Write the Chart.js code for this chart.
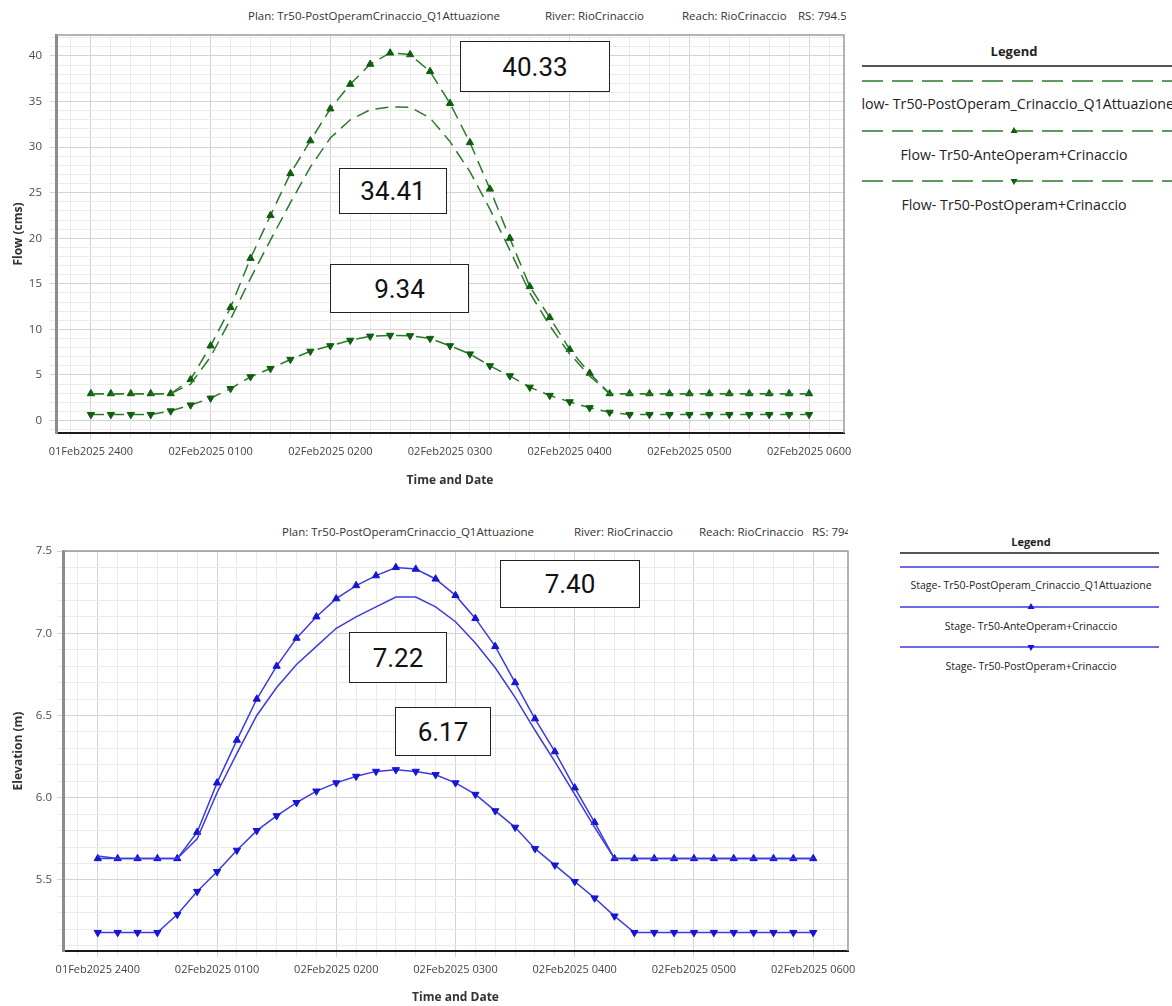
<!DOCTYPE html>
<html>
<head>
<meta charset="utf-8">
<script src="https://cdn.jsdelivr.net/npm/chart.js@4.4.1/dist/chart.umd.min.js"></script>
<style>
  body { margin:0; width:1172px; height:1006px; overflow:hidden; position:relative; background:#fff;
         font-family:'Open Sans','DejaVu Sans',sans-serif; }
  canvas { position:absolute; left:0; }
  .hdr { position:absolute; left:0; height:16px; overflow:hidden; font-size:11.5px; line-height:16px; color:#333; white-space:nowrap; }
  .hdr span { position:absolute; top:0; }
  .box { position:absolute; box-sizing:border-box; border:1.5px solid #222; background:#fff;
         display:flex; align-items:center; justify-content:center; font-family:Roboto,sans-serif; font-size:26px; color:#111; }
  .legTitle { position:absolute; font-weight:bold; color:#222; transform:translate(-50%,-50%); white-space:nowrap; }
  .legRule { position:absolute; height:0; border-top:2px solid #555; }
  .legRow { position:absolute; height:20px; overflow:hidden; }
  .legRow span { position:absolute; top:50%; transform:translate(-50%,-50%); white-space:nowrap; color:#222; }
  svg { position:absolute; overflow:visible; }
</style>
</head>
<body>
<div class="hdr" id="hdrFlow" style="top:8px; width:846px"></div>
<canvas id="flowChart" width="860" height="488" style="top:0"></canvas>
<div class="hdr" id="hdrStage" style="top:524px; width:848px"></div>
<canvas id="stageChart" width="864" height="505" style="top:500px"></canvas>
<script>
// tempo in minuti dall'inizio (01Feb2025 2400), passo 10 min
const timeMinutes = [0, 10, 20, 30, 40, 50, 60, 70, 80, 90, 100, 110, 120, 130, 140, 150, 160, 170, 180,
  190, 200, 210, 220, 230, 240, 250, 260, 270, 280, 290, 300, 310, 320, 330, 340, 350, 360];
const xTickLabels = ['01Feb2025 2400', '02Feb2025 0100', '02Feb2025 0200', '02Feb2025 0300',
  '02Feb2025 0400', '02Feb2025 0500', '02Feb2025 0600'];

// Portate (cms)
const flowQ1 = [2.95, 2.95, 2.95, 2.95, 2.95, 4.0, 7.0, 11.1, 15.6, 19.8, 23.9, 27.8, 31.0, 33.0, 34.1, 34.41, 34.38, 33.2,
  30.6, 27.3, 23.2, 18.7, 14.0, 10.4, 7.3, 4.9, 2.95, 2.95, 2.95, 2.95, 2.95, 2.95, 2.95, 2.95, 2.95, 2.95, 2.95];
const flowAnte = [2.95, 2.95, 2.95, 2.95, 2.95, 4.5, 8.2, 12.4, 17.8, 22.5, 27.1, 30.7, 34.2, 36.9, 39.1, 40.33, 40.15, 38.3,
  34.8, 30.5, 25.4, 20.0, 14.7, 11.3, 7.8, 5.2, 2.95, 2.95, 2.95, 2.95, 2.95, 2.95, 2.95, 2.95, 2.95, 2.95, 2.95];
const flowPost = [0.65, 0.65, 0.65, 0.65, 1.05, 1.7, 2.45, 3.5, 4.8, 5.7, 6.7, 7.6, 8.2, 8.8, 9.25, 9.34, 9.3, 9.0,
  8.2, 7.3, 6.0, 4.9, 3.65, 2.75, 2.05, 1.4, 0.9, 0.65, 0.65, 0.65, 0.65, 0.65, 0.65, 0.65, 0.65, 0.65, 0.65];

// Livelli (m)
const stageQ1 = [5.645, 5.63, 5.63, 5.63, 5.63, 5.75, 6.03, 6.27, 6.50, 6.67, 6.81, 6.92, 7.03, 7.10, 7.16, 7.22, 7.22, 7.16,
  7.07, 6.94, 6.79, 6.61, 6.41, 6.22, 6.02, 5.82, 5.63, 5.63, 5.63, 5.63, 5.63, 5.63, 5.63, 5.63, 5.63, 5.63, 5.63];
const stageAnte = [5.63, 5.63, 5.63, 5.63, 5.63, 5.79, 6.09, 6.35, 6.60, 6.80, 6.97, 7.10, 7.21, 7.29, 7.35, 7.40, 7.39, 7.33,
  7.23, 7.09, 6.92, 6.70, 6.48, 6.28, 6.06, 5.85, 5.63, 5.63, 5.63, 5.63, 5.63, 5.63, 5.63, 5.63, 5.63, 5.63, 5.63];
const stagePost = [5.18, 5.18, 5.18, 5.18, 5.29, 5.43, 5.55, 5.68, 5.80, 5.89, 5.97, 6.04, 6.09, 6.13, 6.16, 6.17, 6.16, 6.14,
  6.09, 6.02, 5.92, 5.82, 5.69, 5.59, 5.49, 5.39, 5.28, 5.18, 5.18, 5.18, 5.18, 5.18, 5.18, 5.18, 5.18, 5.18, 5.18];

const flowNames = ['Flow- Tr50-PostOperam_Crinaccio_Q1Attuazione', 'Flow- Tr50-AnteOperam+Crinaccio', 'Flow- Tr50-PostOperam+Crinaccio'];
const stageNames = ['Stage- Tr50-PostOperam_Crinaccio_Q1Attuazione', 'Stage- Tr50-AnteOperam+Crinaccio', 'Stage- Tr50-PostOperam+Crinaccio'];
const headerParts = ['Plan: Tr50-PostOperamCrinaccio_Q1Attuazione', 'River: RioCrinaccio', 'Reach: RioCrinaccio', 'RS: 794.5'];

const GREEN = '#2b7a2b', GREEN_DARK = '#0d5e0d';
const BLUE = '#3b3be0', BLUE_DARK = '#1515d6';
const FONT = 'Open Sans';

// intestazioni (posizione orizzontale di ogni voce)
function fillHeader(id, xs) {
  document.getElementById(id).innerHTML =
    headerParts.map((p, i) => `<span style="left:${xs[i]}px">${p}</span>`).join('');
}
fillHeader('hdrFlow', [248, 545, 682, 798]);
fillHeader('hdrStage', [282, 574, 699, 812]);

const series = vals => timeMinutes.map((t, i) => ({ x: t, y: vals[i] }));

// bordo sottile in alto e a destra dell'area grafico
const frame = {
  id: 'frame',
  afterDraw(chart) {
    const { ctx, chartArea: a } = chart;
    ctx.save();
    ctx.strokeStyle = '#9a9a9a';
    ctx.lineWidth = 1.5;
    ctx.beginPath();
    ctx.moveTo(a.left, a.top);
    ctx.lineTo(a.right, a.top);
    ctx.lineTo(a.right, a.bottom);
    ctx.stroke();
    ctx.restore();
  }
};

function makeChart(id, cfg) {
  return new Chart(document.getElementById(id), {
    type: 'line',
    data: { datasets: cfg.datasets },
    options: {
      responsive: false,
      animation: false,
      layout: { padding: cfg.pad },
      plugins: { legend: { display: false }, tooltip: { enabled: false } },
      elements: { line: { tension: 0, borderWidth: 1.5 } },
      scales: {
        x: {
          type: 'linear', min: -17.5, max: 377.5,
          afterFit: s => { s.height = cfg.xHeight; },
          border: { color: '#1a1a1a', width: 2 },
          grid: { color: c => (c.tick && c.tick.value % 60 === 0) ? '#d4d4d4' : '#ebebeb', tickLength: 6 },
          ticks: {
            stepSize: 10, includeBounds: false, autoSkip: false, maxRotation: 0, minRotation: 0,
            padding: 6, color: '#444', font: { family: FONT, size: 11 },
            callback: v => v % 60 === 0 ? xTickLabels[v / 60] : ''
          },
          title: { display: true, text: 'Time and Date', color: '#333',
                   font: { family: FONT, size: 12, weight: 'bold' }, padding: { top: 0, bottom: 0 } }
        },
        y: {
          min: cfg.yMin, max: cfg.yMax,
          afterFit: s => { s.width = cfg.yWidth; },
          border: { color: '#8c8c8c', width: 3 },
          grid: { color: c => (c.tick && cfg.isMajor(c.tick.value)) ? '#d4d4d4' : '#ebebeb', tickLength: 6 },
          ticks: {
            stepSize: cfg.yStep, includeBounds: false, autoSkip: false, padding: cfg.yPad,
            color: '#4a4a4a', font: { family: FONT, size: 11.5 },
            callback: v => cfg.isMajor(v) ? cfg.fmt(v) : ''
          },
          title: { display: true, text: cfg.yTitle, color: '#333',
                   font: { family: FONT, size: 12, weight: 'bold' }, padding: { top: 1, bottom: 0 } }
        }
      }
    },
    plugins: [frame]
  });
}

makeChart('flowChart', {
  pad: { left: 10, top: 35, right: 16, bottom: 0 },
  yWidth: 46, xHeight: 55, yPad: 8,
  yMin: -1.37, yMax: 42.3, yStep: 1, yTitle: 'Flow (cms)',
  isMajor: v => Math.round(v) % 5 === 0,
  fmt: v => String(Math.round(v)),
  datasets: [
    { label: flowNames[0], data: series(flowQ1), borderColor: GREEN, borderDash: [13, 7], pointRadius: 0 },
    { label: flowNames[1], data: series(flowAnte), borderColor: GREEN, borderDash: [13, 7],
      pointStyle: 'triangle', pointRadius: 4.2, pointBackgroundColor: GREEN_DARK, pointBorderColor: GREEN_DARK, pointBorderWidth: 1 },
    { label: flowNames[2], data: series(flowPost), borderColor: GREEN, borderDash: [13, 7],
      pointStyle: 'triangle', pointRotation: 180, pointRadius: 4.2, pointBackgroundColor: GREEN_DARK, pointBorderColor: GREEN_DARK, pointBorderWidth: 1 }
  ]
});

makeChart('stageChart', {
  pad: { left: 10, top: 51, right: 16, bottom: 0 },
  yWidth: 53, xHeight: 54, yPad: 5,
  yMin: 5.068, yMax: 7.5, yStep: 0.1, yTitle: 'Elevation (m)',
  isMajor: v => Math.round(v * 10) % 5 === 0,
  fmt: v => v.toFixed(1),
  datasets: [
    { label: stageNames[0], data: series(stageQ1), borderColor: BLUE, pointRadius: 0 },
    { label: stageNames[1], data: series(stageAnte), borderColor: BLUE,
      pointStyle: 'triangle', pointRadius: 4.2, pointBackgroundColor: BLUE_DARK, pointBorderColor: BLUE_DARK, pointBorderWidth: 1 },
    { label: stageNames[2], data: series(stagePost), borderColor: BLUE,
      pointStyle: 'triangle', pointRotation: 180, pointRadius: 4.2, pointBackgroundColor: BLUE_DARK, pointBorderColor: BLUE_DARK, pointBorderWidth: 1 }
  ]
});

// riquadri con i valori di picco
const peak = arr => Math.max(...arr).toFixed(2);
const boxes = [
  { text: peak(flowAnte), l: 460, t: 41, w: 150, h: 51 },
  { text: peak(flowQ1), l: 339, t: 168, w: 108, h: 46 },
  { text: peak(flowPost), l: 330, t: 264, w: 139, h: 49 },
  { text: peak(stageAnte), l: 500, t: 560, w: 140, h: 48 },
  { text: peak(stageQ1), l: 349, t: 632, w: 98, h: 51 },
  { text: peak(stagePost), l: 395, t: 707, w: 96, h: 49 }
];
boxes.forEach(b => {
  const d = document.createElement('div');
  d.className = 'box';
  d.style.cssText = `left:${b.l}px;top:${b.t}px;width:${b.w}px;height:${b.h}px`;
  d.textContent = b.text;
  document.body.appendChild(d);
});

// legende laterali
function buildLegend(L) {
  const add = (html) => document.body.insertAdjacentHTML('beforeend', html);
  add(`<div class="legTitle" style="left:${L.center}px;top:${L.titleY}px;font-size:${L.titleSize}px">Legend</div>`);
  add(`<div class="legRule" style="left:${L.left}px;top:${L.ruleY}px;width:${L.width}px"></div>`);
  L.names.forEach((name, i) => {
    const y = L.lineY[i];
    const mx = L.markerX - L.left;
    let marker = '';
    if (i === 1) marker = `<polygon points="${mx},1 ${mx - 3.5},7 ${mx + 3.5},7" fill="${L.mark}"/>`;
    if (i === 2) marker = `<polygon points="${mx},9 ${mx - 3.5},3 ${mx + 3.5},3" fill="${L.mark}"/>`;
    add(`<svg style="left:${L.left}px;top:${y - 5}px" width="${L.width}" height="10">
      <line x1="0" y1="5" x2="${L.width}" y2="5" stroke="${L.color}" stroke-width="1.5" ${L.dash ? `stroke-dasharray="${L.dash}"` : ''}/>${marker}</svg>`);
    add(`<div class="legRow" style="left:${L.left}px;top:${L.labelY[i] - 10}px;width:${L.width}px">
      <span style="left:${L.center - L.left}px;font-size:${L.fontSize}px">${name}</span></div>`);
  });
}

buildLegend({ names: flowNames, left: 862, width: 310, center: 1014, markerX: 1014,
  titleY: 51, titleSize: 13, ruleY: 65, lineY: [81, 131, 181], labelY: [103, 154, 204],
  fontSize: 14.2, color: GREEN, mark: GREEN_DARK, dash: '21 9' });
buildLegend({ names: stageNames, left: 900, width: 259, center: 1031, markerX: 1031,
  titleY: 541, titleSize: 11, ruleY: 552, lineY: [567, 607, 647], labelY: [585, 626, 666],
  fontSize: 10.5, color: BLUE, mark: BLUE_DARK, dash: '' });
</script>
</body>
</html>
